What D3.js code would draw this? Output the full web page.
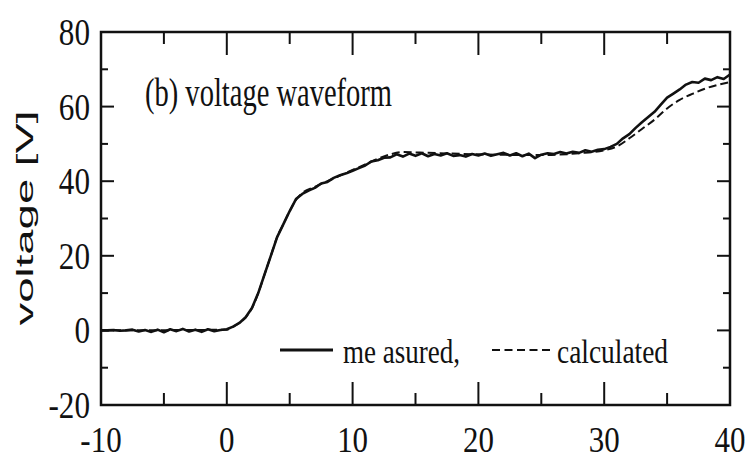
<!DOCTYPE html>
<html>
<head>
<meta charset="utf-8">
<script src="https://cdn.jsdelivr.net/npm/d3@7"></script>
<style>
  body { margin: 0; background: #fff; }
  svg { display: block; }
  .serif { font-family: "Liberation Serif", "Times New Roman", serif; fill: #111; }
  .sans { font-family: "Liberation Sans", Arial, sans-serif; fill: #111; }
</style>
</head>
<body>
<div id="chart"></div>
<script>
// measured waveform (time, voltage)
var measT = [-10, -9.5, -9, -8.5, -8, -7.5, -7, -6.5, -6, -5.5, -5, -4.5, -4, -3.5, -3, -2.5, -2, -1.5, -1, -0.5,
  0, 0.5, 1, 1.5, 2, 2.5, 3, 3.5, 4, 4.5, 5, 5.5, 6, 6.5, 7, 7.5, 8, 8.5, 9, 9.5,
  10, 10.5, 11, 11.5, 12, 12.5, 13, 13.5, 14, 14.5, 15, 15.5, 16, 16.5, 17, 17.5, 18, 18.5, 19, 19.5,
  20, 20.5, 21, 21.5, 22, 22.5, 23, 23.5, 24, 24.5, 25, 25.5, 26, 26.5, 27, 27.5, 28, 28.5, 29, 29.5,
  30, 30.5, 31, 31.5, 32, 32.5, 33, 33.5, 34, 34.5, 35, 35.5, 36, 36.5, 37, 37.5, 38, 38.5, 39, 39.5, 40];
var measV = [0, 0, 0.1, -0.1, 0, 0.2, -0.3, 0.1, -0.4, 0.2, -0.5, 0.3, -0.2, 0.4, -0.3, 0.2, -0.4, 0.3, -0.2, 0.1,
  0.3, 1.0, 2.0, 3.5, 6.0, 10.0, 15.0, 20.0, 25.0, 28.5, 32.0, 35.2, 36.6, 37.5, 38.2, 39.4, 39.8, 40.9, 41.6, 42.1,
  42.8, 43.5, 44.2, 45.3, 45.6, 46.3, 46.4, 47.2, 46.6, 47.4, 46.8, 47.5, 46.7, 47.3, 46.9, 47.5, 46.8, 47.0, 46.6, 47.3,
  46.9, 47.4, 46.8, 47.2, 47.6, 46.9, 47.5, 46.7, 47.4, 46.2, 47.1, 47.5, 47.3, 47.8, 47.4, 47.9, 47.6, 48.3, 47.9, 48.4,
  48.6, 49.2, 50.0, 51.5, 52.6, 54.3, 55.8, 57.2, 58.6, 60.5, 62.4, 63.5, 64.6, 65.9, 66.6, 66.4, 67.5, 67.1, 67.9, 67.4, 68.6];

// calculated waveform
var calcT = [-10, 0, 0.5, 1, 1.5, 2, 2.5, 3, 3.5, 4, 4.5, 5, 5.5, 6, 7, 8, 9, 10, 11, 12, 13, 14, 16, 20, 25, 28, 30, 31, 32, 33, 34, 35, 36, 37, 38, 39, 40];
var calcV = [0, 0.2, 1, 2, 3.5, 6, 10, 15, 20, 25, 28.5, 32, 35, 36.8, 38.5, 40, 41.5, 43, 44.5, 46, 47.2, 47.8, 47.6, 47.2, 47.0, 47.5, 48.3, 49.3, 51.5, 54, 56.5, 59.5, 61.8, 63.4, 64.8, 65.8, 66.6];

// axis ticks
var xMajor = [-10, 0, 10, 20, 30, 40];
var xMinor = [-5, 5, 15, 25, 35];
var yMajor = [-20, 0, 20, 40, 60, 80];
var yMinor = [-10, 10, 30, 50, 70];

var legendLabels = ["me asured,", "calculated"];
var panelTitle = "(b) voltage waveform";
var yTitle = "voltage [V]";

var width = 745, height = 461
  , margin = {top: 32, right: 15, bottom: 56, left: 101};

var svg = d3.select("#chart").append("svg")
    .attr("width", width)
    .attr("height", height);

var x = d3.scaleLinear().domain([-10, 40]).range([margin.left, width - margin.right]);
var y = d3.scaleLinear().domain([-20, 80]).range([height - margin.bottom, margin.top]);

var x0 = x.range()[0], x1 = x.range()[1], y0 = y.range()[0], y1 = y.range()[1];

// ticks on all four sides, pointing inward
var tickG = svg.append("g").attr("stroke", "#111").attr("stroke-width", 2);
function vticks(vals, len) {
  vals.forEach(function(d) {
    tickG.append("line").attr("x1", x(d)).attr("x2", x(d)).attr("y1", y0).attr("y2", y0 - len);
    tickG.append("line").attr("x1", x(d)).attr("x2", x(d)).attr("y1", y1).attr("y2", y1 + len);
  });
}
function hticks(vals, len) {
  vals.forEach(function(d) {
    tickG.append("line").attr("x1", x0).attr("x2", x0 + len).attr("y1", y(d)).attr("y2", y(d));
    tickG.append("line").attr("x1", x1).attr("x2", x1 - len).attr("y1", y(d)).attr("y2", y(d));
  });
}
vticks(xMajor, 23);
vticks(xMinor, 12);
hticks(yMajor, 13);
hticks(yMinor, 7);

// frame
svg.append("rect")
    .attr("x", x0).attr("y", y1)
    .attr("width", x1 - x0).attr("height", y0 - y1)
    .attr("fill", "none").attr("stroke", "#111").attr("stroke-width", 2.5);

// tick labels (narrow serif)
xMajor.forEach(function(d) {
  svg.append("text").attr("class", "serif")
      .attr("transform", "translate(" + x(d) + "," + (y0 + 47) + ") scale(0.86,1)")
      .attr("text-anchor", "middle")
      .attr("font-size", 36)
      .text(d);
});
yMajor.forEach(function(d) {
  svg.append("text").attr("class", "serif")
      .attr("transform", "translate(" + (x0 - 11) + "," + (y(d) + 13) + ") scale(0.82,1)")
      .attr("text-anchor", "end")
      .attr("font-size", 38)
      .text(d);
});

// y title, stretched along the axis
svg.append("text").attr("class", "sans")
    .attr("transform", "translate(33,218) rotate(-90)")
    .attr("text-anchor", "middle")
    .attr("font-size", 24)
    .attr("textLength", 215)
    .attr("lengthAdjust", "spacingAndGlyphs")
    .text(yTitle);

// panel label
svg.append("text").attr("class", "serif")
    .attr("x", 145).attr("y", 106)
    .attr("font-size", 40)
    .attr("textLength", 247)
    .attr("lengthAdjust", "spacingAndGlyphs")
    .text(panelTitle);

var line = d3.line()
    .x(function(d) { return x(d[0]); })
    .y(function(d) { return y(d[1]); });

var calc = calcT.map(function(t, i) { return [t, calcV[i]]; });
var meas = measT.map(function(t, i) { return [t, measV[i]]; });

svg.append("path").datum(calc)
    .attr("d", line.curve(d3.curveMonotoneX))
    .attr("fill", "none").attr("stroke", "#111")
    .attr("stroke-width", 2).attr("stroke-dasharray", "8,4");

svg.append("path").datum(meas)
    .attr("d", line.curve(d3.curveLinear))
    .attr("fill", "none").attr("stroke", "#111")
    .attr("stroke-width", 2.6).attr("stroke-linejoin", "round");

// legend
var lg = svg.append("g");
lg.append("line").attr("x1", 280).attr("x2", 333).attr("y1", 350).attr("y2", 350)
    .attr("stroke", "#111").attr("stroke-width", 3);
lg.append("text").attr("class", "serif")
    .attr("x", 343).attr("y", 363).attr("font-size", 34)
    .attr("textLength", 117).attr("lengthAdjust", "spacingAndGlyphs")
    .text(legendLabels[0]);
lg.append("line").attr("x1", 492).attr("x2", 553).attr("y1", 350).attr("y2", 350)
    .attr("stroke", "#111").attr("stroke-width", 2).attr("stroke-dasharray", "8,4.5");
lg.append("text").attr("class", "serif")
    .attr("x", 557).attr("y", 363).attr("font-size", 34)
    .attr("textLength", 111).attr("lengthAdjust", "spacingAndGlyphs")
    .text(legendLabels[1]);
</script>
</body>
</html>
